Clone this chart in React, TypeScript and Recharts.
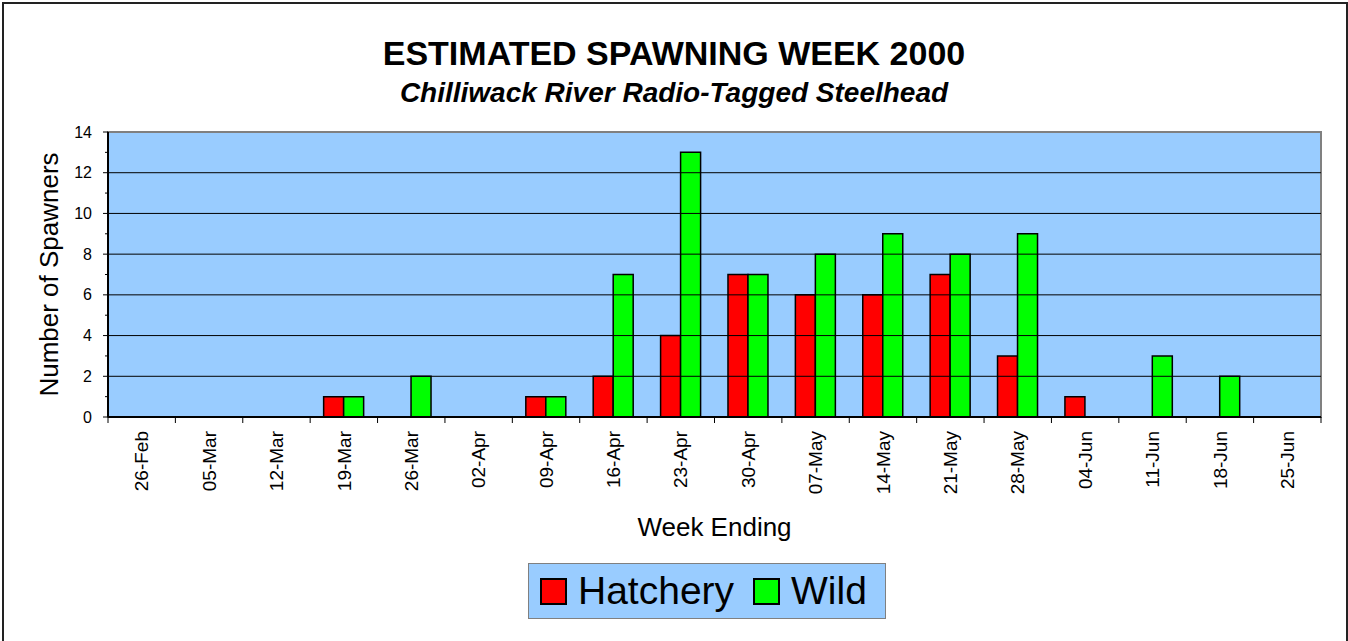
import React from 'react';
import { BarChart, Bar, XAxis, YAxis, CartesianGrid, ReferenceLine, ReferenceArea, Legend } from 'recharts';

const weeks = ['26-Feb', '05-Mar', '12-Mar', '19-Mar', '26-Mar', '02-Apr', '09-Apr', '16-Apr', '23-Apr', '30-Apr', '07-May', '14-May', '21-May', '28-May', '04-Jun', '11-Jun', '18-Jun', '25-Jun'];
const hatchery = [0, 0, 0, 1, 0, 0, 1, 2, 4, 7, 6, 6, 7, 3, 1, 0, 0, 0];
const wild = [0, 0, 0, 1, 2, 0, 1, 7, 13, 7, 8, 9, 8, 9, 0, 3, 2, 0];

const yTicks = [0, 1, 2, 3, 4, 5, 6, 7, 8, 9, 10, 11, 12, 13, 14];
const gridValues = [2, 4, 6, 8, 10, 12];

const data = weeks.map((week, i) => ({ week, Hatchery: hatchery[i], Wild: wild[i] }));

const font = 'Arial, "Liberation Sans", sans-serif';
const Y_TICK_SIZE = 5;
const Y_TICK_MARGIN = 11;

// y ticks: long tick + label on even values, short tick on odd ones
const CountTick = (props: any) => {
  const { x, y, payload } = props;
  const axisX = x + Y_TICK_SIZE + Y_TICK_MARGIN;
  const major = payload.value % 2 === 0;
  return (
    <g>
      <line x1={axisX - (major ? 5 : 3)} x2={axisX} y1={y} y2={y} stroke="#000" strokeWidth={1} />
      {major && (
        <text x={x} y={y} dy="0.35em" textAnchor="end" fontSize={16} fontFamily={font} fill="#000">
          {payload.value}
        </text>
      )}
    </g>
  );
};

// rotated week label, with tick marks on the category edges
const WeekTick = (props: any) => {
  const { x, y, payload, index } = props;
  const axisY = y;
  const half = payload.offset || 0;
  const ly = 431;
  return (
    <g>
      <line x1={x - half} x2={x - half} y1={axisY - 8} y2={axisY - 2} stroke="#000" strokeWidth={1} />
      {index === weeks.length - 1 && (
        <line x1={x + half} x2={x + half} y1={axisY - 8} y2={axisY - 2} stroke="#000" strokeWidth={1} />
      )}
      <text x={x} y={ly} dy="0.35em" textAnchor="end" transform={`rotate(-90, ${x}, ${ly})`}
        fontSize={19} fontFamily={font} fill="#000">
        {payload.value}
      </text>
    </g>
  );
};

const YTitle = (props: any) => {
  const { viewBox } = props;
  const x = 58;
  const y = viewBox.y + viewBox.height / 2;
  return (
    <text x={x} y={y} textAnchor="middle" transform={`rotate(-90, ${x}, ${y})`}
      fontSize={26} fontFamily={font} fill="#000">
      Number of Spawners
    </text>
  );
};

const XTitle = (props: any) => {
  const { viewBox } = props;
  return (
    <text x={viewBox.x + viewBox.width / 2} y={536} textAnchor="middle"
      fontSize={26} fontFamily={font} fill="#000">
      Week Ending
    </text>
  );
};

const LegendBox = (props: any) => {
  const { payload } = props;
  return (
    <div style={{
      boxSizing: 'border-box', width: 358, height: 56, background: '#99CCFF',
      border: '1px solid #808080', display: 'flex', alignItems: 'center', paddingLeft: 11,
      fontFamily: font, fontSize: 39, color: '#000',
    }}>
      {payload.map((item: any) => (
        <div key={item.value} style={{ display: 'flex', alignItems: 'center', marginRight: 19 }}>
          <span style={{
            display: 'inline-block', boxSizing: 'border-box', width: 27, height: 27,
            background: item.color, border: '2px solid #000', marginRight: 11,
          }} />
          <span style={{ lineHeight: '40px' }}>{item.value}</span>
        </div>
      ))}
    </div>
  );
};

const App: React.FC = () => {
  return (
    <div style={{ position: 'absolute', left: 0, top: 0, width: 1348, height: 641, overflow: 'hidden', background: '#fff' }}>
      <div style={{
        position: 'absolute', left: 2, top: 2, width: 1346, height: 660, boxSizing: 'border-box',
        border: '2px solid #222',
      }} />
      <div style={{ position: 'absolute', left: 0, top: 33, width: 1348, textAlign: 'center', fontFamily: font, fontWeight: 'bold', fontSize: 34, lineHeight: '40px' }}>
        ESTIMATED SPAWNING WEEK 2000
      </div>
      <div style={{ position: 'absolute', left: 0, top: 76, width: 1348, textAlign: 'center', fontFamily: font, fontWeight: 'bold', fontStyle: 'italic', fontSize: 28, lineHeight: '34px' }}>
        Chilliwack River Radio-Tagged Steelhead
      </div>
      <div style={{ position: 'absolute', left: 0, top: 0 }}>
        <BarChart width={1348} height={641} data={data}
          margin={{ top: 132, right: 27, left: 0, bottom: 0 }}
          barCategoryGap="20%" barGap={0}>
          <CartesianGrid fill="#99CCFF" horizontal={false} vertical={false} />
          <ReferenceArea y1={0} y2={14} fill="none" stroke="#808080" strokeWidth={2} />
          {gridValues.map((v) => (
            <ReferenceLine key={v} y={v} stroke="#000" strokeWidth={1} />
          ))}
          <YAxis domain={[0, 14]} ticks={yTicks} interval={0} width={108}
            tickSize={Y_TICK_SIZE} tickMargin={Y_TICK_MARGIN} tickLine={false}
            axisLine={{ stroke: '#000', strokeWidth: 2 }} tick={<CountTick />} label={<YTitle />} />
          <XAxis dataKey="week" interval={0} height={168} tickLine={false}
            axisLine={{ stroke: '#000', strokeWidth: 2 }} tick={<WeekTick />} label={<XTitle />} />
          <Bar dataKey="Hatchery" fill="#FF0000" stroke="#000" strokeWidth={1.5} isAnimationActive={false} />
          <Bar dataKey="Wild" fill="#00FF00" stroke="#000" strokeWidth={1.5} isAnimationActive={false} />
          <Legend content={<LegendBox />}
            wrapperStyle={{ position: 'absolute', left: 528, top: 563, width: 358, height: 56 }} />
        </BarChart>
      </div>
    </div>
  );
};

export default App;
